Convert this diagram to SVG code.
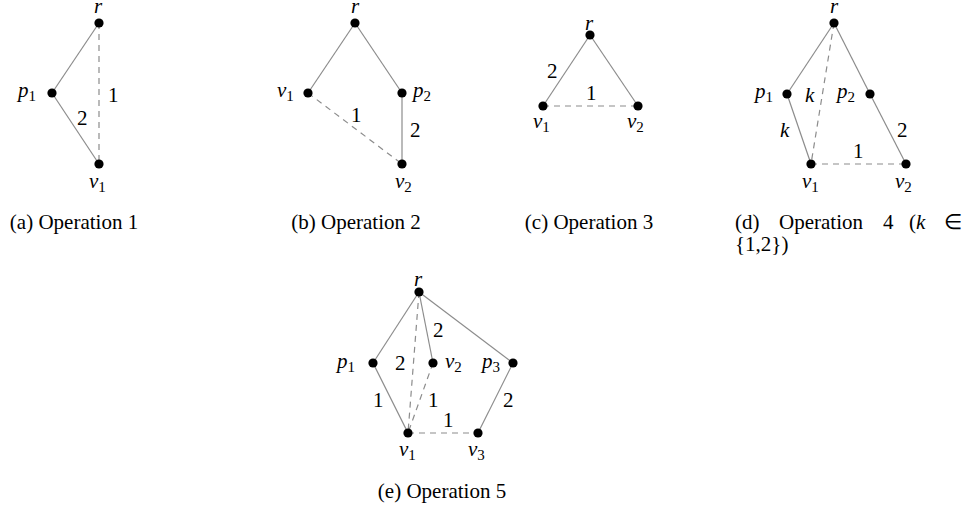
<svg xmlns="http://www.w3.org/2000/svg" width="963" height="508" viewBox="0 0 963 508">
<style>
.e{stroke:#8c8c8c;stroke-width:1.2;fill:none}
.d{stroke-dasharray:6,5}
.n{fill:#000}
text{font-family:'Liberation Serif','Times New Roman',serif;font-size:21px;fill:#000}
.i{font-style:italic}
.s{font-size:15px;font-style:normal}
.c{text-anchor:middle}
</style>
<g id="connectors">
<line class="e" x1="99" y1="23" x2="52" y2="93"/>
<line class="e" x1="52" y1="93" x2="99" y2="164"/>
<line class="e d" x1="99" y1="23" x2="99" y2="164"/>
<line class="e" x1="355" y1="23" x2="308" y2="93"/>
<line class="e" x1="355" y1="23" x2="402" y2="93"/>
<line class="e" x1="402" y1="93" x2="402" y2="164"/>
<line class="e d" x1="308" y1="93" x2="402" y2="164"/>
<line class="e" x1="590" y1="35" x2="543" y2="106"/>
<line class="e" x1="590" y1="35" x2="638" y2="106"/>
<line class="e d" x1="543" y1="106" x2="638" y2="106"/>
<line class="e" x1="834" y1="23" x2="787" y2="94"/>
<line class="e" x1="787" y1="94" x2="811" y2="164"/>
<line class="e" x1="834" y1="23" x2="870" y2="94"/>
<line class="e" x1="870" y1="94" x2="906" y2="164"/>
<line class="e d" x1="834" y1="23" x2="811" y2="164"/>
<line class="e d" x1="811" y1="164" x2="906" y2="164"/>
<line class="e" x1="419" y1="292" x2="373" y2="363"/>
<line class="e" x1="373" y1="363" x2="408" y2="433"/>
<line class="e" x1="419" y1="292" x2="433" y2="363"/>
<line class="e" x1="419" y1="292" x2="513" y2="363"/>
<line class="e" x1="513" y1="363" x2="478" y2="433"/>
<line class="e d" x1="419" y1="292" x2="408" y2="433"/>
<line class="e d" x1="433" y1="363" x2="408" y2="433"/>
<line class="e d" x1="408" y1="433" x2="478" y2="433"/>
</g>
<g id="a_r"><circle class="n" cx="99" cy="23" r="4.6"/><text class="i" x="94" y="13">r</text></g>
<g id="a_p1"><circle class="n" cx="52" cy="93" r="4.6"/><text class="i" x="18" y="97">p<tspan class="s" dy="4">1</tspan></text></g>
<g id="a_v1"><circle class="n" cx="99" cy="164" r="4.6"/><text class="i" x="89" y="188">v<tspan class="s" dy="4">1</tspan></text></g>
<g id="a_labels"><text x="108" y="102">1</text><text x="77" y="125">2</text></g>
<text class="c" x="74" y="229">(a) Operation 1</text>
<g id="b_r"><circle class="n" cx="355" cy="23" r="4.6"/><text class="i" x="351" y="13">r</text></g>
<g id="b_v1"><circle class="n" cx="308" cy="93" r="4.6"/><text class="i" x="277" y="97">v<tspan class="s" dy="4">1</tspan></text></g>
<g id="b_p2"><circle class="n" cx="402" cy="93" r="4.6"/><text class="i" x="413" y="97">p<tspan class="s" dy="4">2</tspan></text></g>
<g id="b_v2"><circle class="n" cx="402" cy="164" r="4.6"/><text class="i" x="395" y="188">v<tspan class="s" dy="4">2</tspan></text></g>
<g id="b_labels"><text x="351" y="122">1</text><text x="410" y="137">2</text></g>
<text class="c" x="356" y="229">(b) Operation 2</text>
<g id="c_r"><circle class="n" cx="590" cy="35" r="4.6"/><text class="i" x="585" y="30">r</text></g>
<g id="c_v1"><circle class="n" cx="543" cy="106" r="4.6"/><text class="i" x="533" y="128">v<tspan class="s" dy="4">1</tspan></text></g>
<g id="c_v2"><circle class="n" cx="638" cy="106" r="4.6"/><text class="i" x="627" y="128">v<tspan class="s" dy="4">2</tspan></text></g>
<g id="c_labels"><text x="547" y="78">2</text><text x="586" y="100">1</text></g>
<text class="c" x="589" y="229">(c) Operation 3</text>
<g id="d_r"><circle class="n" cx="834" cy="23" r="4.6"/><text class="i" x="830" y="13">r</text></g>
<g id="d_p1"><circle class="n" cx="787" cy="94" r="4.6"/><text class="i" x="755" y="98">p<tspan class="s" dy="4">1</tspan></text></g>
<g id="d_p2"><circle class="n" cx="870" cy="94" r="4.6"/><text class="i" x="837" y="98">p<tspan class="s" dy="4">2</tspan></text></g>
<g id="d_v1"><circle class="n" cx="811" cy="164" r="4.6"/><text class="i" x="802" y="188">v<tspan class="s" dy="4">1</tspan></text></g>
<g id="d_v2"><circle class="n" cx="906" cy="164" r="4.6"/><text class="i" x="895" y="188">v<tspan class="s" dy="4">2</tspan></text></g>
<g id="d_labels"><text class="i" x="805" y="102">k</text><text class="i" x="780" y="137">k</text><text x="897" y="137">2</text><text x="853" y="158">1</text></g>
<text y="229"><tspan x="735">(d)</tspan><tspan x="779">Operation</tspan><tspan x="883">4</tspan><tspan x="909">(</tspan><tspan class="i">k</tspan><tspan x="944">∈</tspan></text>
<text x="735" y="251">{1,2})</text>
<g id="e_r"><circle class="n" cx="419" cy="292" r="4.6"/><text class="i" x="414" y="286">r</text></g>
<g id="e_p1"><circle class="n" cx="373" cy="363" r="4.6"/><text class="i" x="337" y="368">p<tspan class="s" dy="4">1</tspan></text></g>
<g id="e_v2"><circle class="n" cx="433" cy="363" r="4.6"/><text class="i" x="445" y="368">v<tspan class="s" dy="4">2</tspan></text></g>
<g id="e_p3"><circle class="n" cx="513" cy="363" r="4.6"/><text class="i" x="482" y="368">p<tspan class="s" dy="4">3</tspan></text></g>
<g id="e_v1"><circle class="n" cx="408" cy="433" r="4.6"/><text class="i" x="399" y="456">v<tspan class="s" dy="4">1</tspan></text></g>
<g id="e_v3"><circle class="n" cx="478" cy="433" r="4.6"/><text class="i" x="468" y="456">v<tspan class="s" dy="4">3</tspan></text></g>
<g id="e_labels"><text x="433" y="337">2</text><text x="395" y="370">2</text><text x="373" y="407">1</text><text x="428" y="407">1</text><text x="443" y="427">1</text><text x="503" y="407">2</text></g>
<text class="c" x="442" y="498">(e) Operation 5</text>
</svg>
